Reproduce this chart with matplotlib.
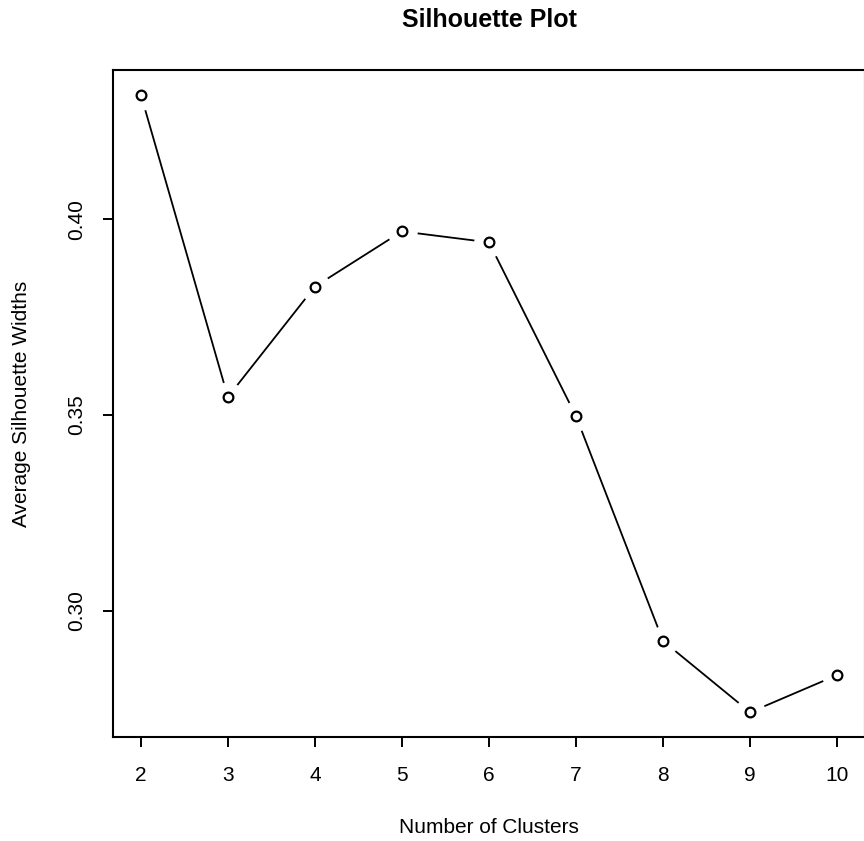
import matplotlib.pyplot as plt

# Dados
clusters = [2, 3, 4, 5, 6, 7, 8, 9, 10]
silhueta = [0.4318, 0.3546, 0.3828, 0.3969, 0.3941, 0.3497, 0.2923, 0.2741, 0.2836]
yticks = [0.30, 0.35, 0.40]
ytick_labels = ["0.30", "0.35", "0.40"]

plt.rcParams['font.family'] = ['Liberation Sans', 'DejaVu Sans']

fig = plt.figure(figsize=(8.64, 8.41), dpi=100)
W, H = 864, 841
# caixa do grafico (em pixels): esquerda 113, direita 865, topo 70, base 737
ax = fig.add_axes([113 / W, (H - 737) / H, (865 - 113) / W, (737 - 70) / H])

# linha + pontos no estilo type="b" do R (falha em volta dos pontos)
ax.plot(clusters, silhueta, color='black', linewidth=1.3, zorder=2)
ax.plot(clusters, silhueta, linestyle='none', marker='o', markersize=21,
        markerfacecolor='white', markeredgecolor='white', zorder=3)
ax.plot(clusters, silhueta, linestyle='none', marker='o', markersize=7,
        markerfacecolor='white', markeredgecolor='black', markeredgewidth=1.6, zorder=4)

# limites como no R (4% de folga)
rx = max(clusters) - min(clusters)
ry = max(silhueta) - min(silhueta)
ax.set_xlim(min(clusters) - 0.04 * rx, max(clusters) + 0.04 * rx)
ax.set_ylim(min(silhueta) - 0.04 * ry, max(silhueta) + 0.04 * ry)

ax.set_xticks(clusters)
ax.set_xticklabels([str(c) for c in clusters])
ax.set_yticks(yticks)
ax.set_yticklabels(ytick_labels, rotation=90, va='center')

ax.tick_params(axis='both', direction='out', length=7, width=1.4,
               labelsize=15, colors='black')
ax.tick_params(axis='x', pad=14)
ax.tick_params(axis='y', pad=12)
for s in ax.spines.values():
    s.set_linewidth(1.5)
    s.set_color('black')

ax.set_xlabel("Number of Clusters", fontsize=15)
ax.set_ylabel("Average Silhouette Widths", fontsize=15)
ax.xaxis.set_label_coords(0.5, -0.121)
ax.yaxis.set_label_coords(-0.109, 0.5)

fig.text((113 + 865) / 2 / W, 1 - 20 / H, "Silhouette Plot", ha='center', va='center',
         fontsize=18, fontweight='bold')

plt.savefig("out.png", dpi=100)
